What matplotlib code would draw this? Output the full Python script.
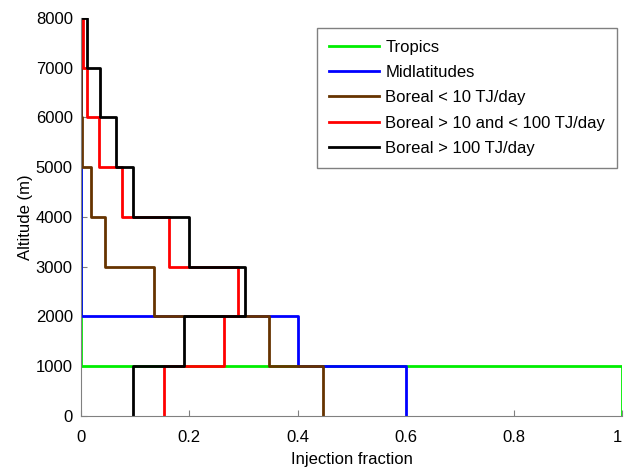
import numpy as np
import matplotlib.pyplot as plt

plt.rcParams['font.family'] = ['Liberation Sans', 'DejaVu Sans']

# layer bottoms (m); each value is the fraction injected in the 1000 m layer above
layers = [0, 1000, 2000, 3000, 4000, 5000, 6000, 7000]
tropics = [1.0, 0, 0, 0, 0, 0, 0, 0]
midlat = [0.6, 0.4, 0, 0, 0, 0, 0, 0]
boreal_low = [0.447, 0.348, 0.134, 0.045, 0.018, 0.002, 0, 0]
boreal_mid = [0.154, 0.265, 0.29, 0.163, 0.075, 0.033, 0.011, 0.003]
boreal_high = [0.095, 0.19, 0.302, 0.2, 0.095, 0.064, 0.034, 0.01]

names = ['Tropics', 'Midlatitudes', 'Boreal < 10 TJ/day',
         'Boreal > 10 and < 100 TJ/day', 'Boreal > 100 TJ/day']
colors = ['#00ee00', '#0000ff', '#663300', '#ff0000', '#000000']
series = [tropics, midlat, boreal_low, boreal_mid, boreal_high]


def stair(frac):
    xs, ys = [], []
    for z, f in zip(layers, frac):
        xs += [f, f]
        ys += [z, z + 1000]
    xs.append(0)
    ys.append(layers[-1] + 1000)
    return xs, ys


fig = plt.figure(figsize=(6.24, 4.69), dpi=100)
ax = fig.add_axes([0.13, 0.113, 0.867, 0.849])

for frac, c, n in zip(series, colors, names):
    xs, ys = stair(frac)
    ax.plot(xs, ys, c=c, lw=2, label=n)

ax.set_xlim(0, 1)
ax.set_ylim(0, 8000)
ax.set_xticks([0, 0.2, 0.4, 0.6, 0.8, 1])
ax.set_xticklabels(['0', '0.2', '0.4', '0.6', '0.8', '1'])
ax.get_xticklabels()[-1].set_ha('right')
ax.set_yticks(range(0, 8001, 1000))
ax.tick_params(direction='in', labelsize=12, length=4, color='#808080')
ax.tick_params(axis='x', pad=10)
ax.tick_params(axis='y', pad=6)
ax.spines['top'].set_visible(False)
ax.spines['right'].set_visible(False)
ax.spines['left'].set_color('#808080')
ax.spines['bottom'].set_color('#808080')
ax.set_xlabel('Injection fraction', fontsize=12, labelpad=5)
ax.set_ylabel('Altitude (m)', fontsize=12, labelpad=2)

leg = ax.legend(loc='upper right', bbox_to_anchor=(617 / 624, 1 - 28 / 469),
                bbox_transform=fig.transFigure, fontsize=12,
                handlelength=3.0, labelspacing=0.62, fancybox=False,
                framealpha=1, borderpad=0.7, handletextpad=0.4,
                borderaxespad=0)
leg.get_frame().set_edgecolor('#808080')
leg.get_frame().set_linewidth(1)

fig.savefig('out.png', dpi=100)
